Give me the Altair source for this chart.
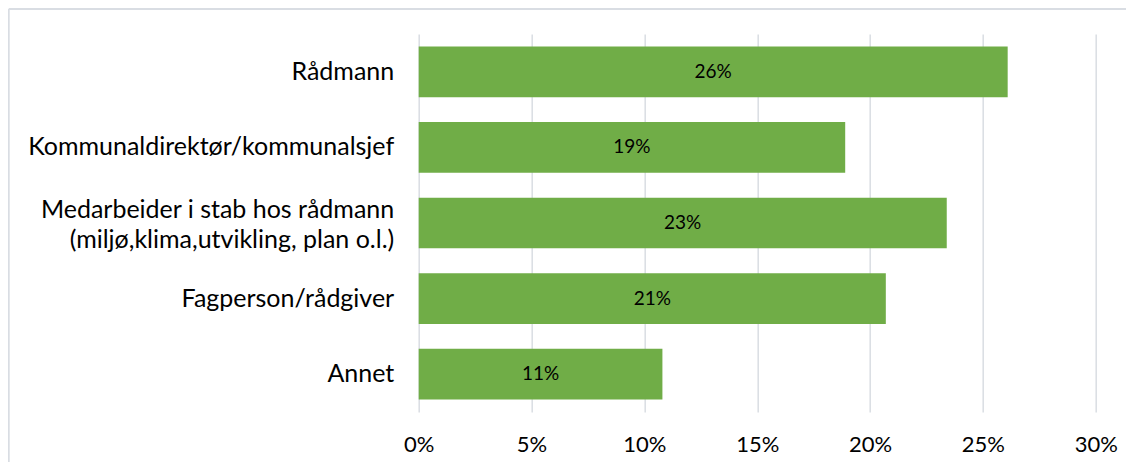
import altair as alt
import pandas as pd

categories = [
    "Rådmann",
    "Kommunaldirektør/kommunalsjef",
    "Medarbeider i stab hos rådmann|(miljø,klima,utvikling, plan o.l.)",
    "Fagperson/rådgiver",
    "Annet",
]
values = [0.261, 0.189, 0.234, 0.207, 0.108]
x_ticks = [0, 0.05, 0.10, 0.15, 0.20, 0.25, 0.30]

df = pd.DataFrame({"cat": categories, "val": values})

FONT = "Lato"
GREEN = "#70AD47"
GRID = "#D9DDE3"

base = alt.Chart(df).encode(
    y=alt.Y(
        "cat:N",
        sort=categories,
        title=None,
        scale=alt.Scale(paddingInner=0.33, paddingOuter=0.165),
        axis=alt.Axis(
            labelExpr="split(datum.label, '|')",
            labelFont=FONT,
            labelFontSize=25,
            labelColor="#000000",
            labelPadding=25,
            labelLineHeight=30,
            labelOffset={
                "condition": {"test": "indexof(datum.value, '|') >= 0", "value": -13},
                "value": 0,
            },
            ticks=False,
            domain=False,
            labelLimit=500,
        ),
    )
)

bars = base.mark_bar(color=GREEN).encode(
    x=alt.X(
        "val:Q",
        title=None,
        scale=alt.Scale(domain=[0, 0.3], nice=False),
        axis=alt.Axis(
            values=x_ticks,
            format=".0%",
            labelFont=FONT,
            labelFontSize=22,
            labelColor="#000000",
            labelPadding=23,
            labelFlush=False,
            labelAlign="center",
            ticks=False,
            domain=False,
            grid=True,
            gridColor=GRID,
            gridWidth=1.5,
        ),
    )
)

labels = base.transform_calculate(mid="datum.val / 2").mark_text(
    font=FONT, fontSize=19, color="#000000", align="center", baseline="middle"
).encode(
    x=alt.X("mid:Q"),
    text=alt.Text("val:Q", format=".0%"),
)

frame_df = pd.DataFrame({"a": [0]})
left_line = alt.Chart(frame_df).mark_rule(color=GRID, strokeWidth=2).encode(
    x=alt.value(-410), y=alt.value(-25), y2=alt.value(460)
)
top_line = alt.Chart(frame_df).mark_rule(color=GRID, strokeWidth=2).encode(
    x=alt.value(-410), x2=alt.value(720), y=alt.value(-25)
)

chart = (
    alt.layer(left_line, top_line, bars, labels)
    .properties(
        width=677,
        height=378,
        autosize=alt.AutoSizeParams(type="none"),
        padding={"left": 410.7, "top": 26, "right": 30, "bottom": 50},
        background="white",
    )
    .configure_view(stroke=None)
)

chart.save("out.html", embed_options={"renderer": "svg", "actions": False})
